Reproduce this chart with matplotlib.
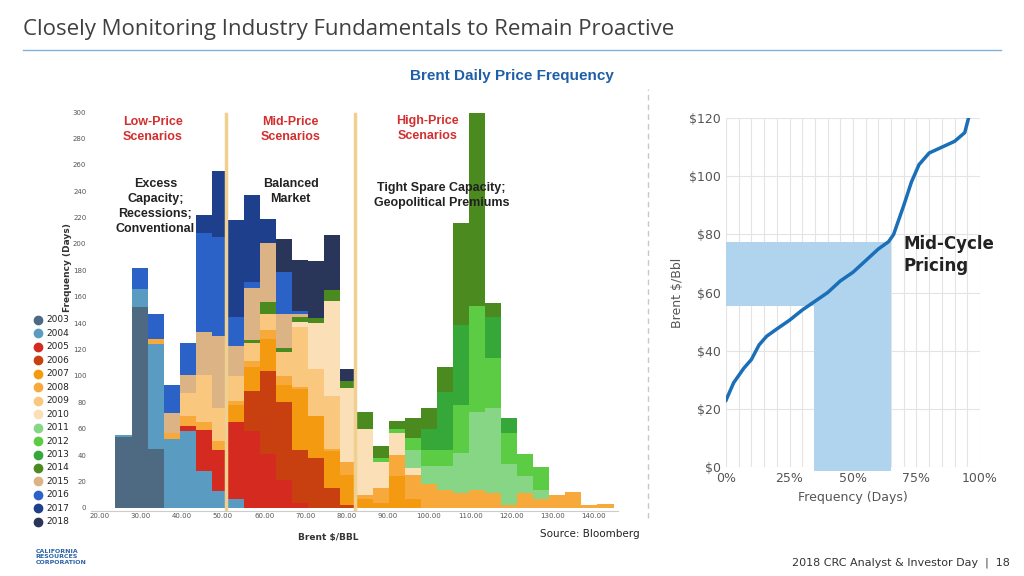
import matplotlib.pyplot as plt
import numpy as np

# --- histogram data: days per $3.9 bin, stacked by year ---
bin_start = 23.9
bin_width = 3.9
n_bins = 31
years = list(range(2003, 2019))
year_colors = ["#4d6a82", "#5a9bc2", "#d42a20", "#c94010", "#f39a10", "#f7a93c",
               "#f9c77e", "#fbdfb6", "#86d686", "#5ccc44", "#36a83a", "#4a8a1e",
               "#dbb385", "#2a62c8", "#1e3f8c", "#2a355a"]
# {bin number (1-based): days}
days = {
    2003: {1: 54, 2: 152, 3: 45},
    2004: {1: 1, 2: 14, 3: 79, 4: 52, 5: 58, 6: 28, 7: 13, 8: 7},
    2005: {5: 4, 6: 31, 7: 31, 8: 58, 9: 58, 10: 41, 11: 21, 12: 4},
    2006: {9: 31, 10: 63, 11: 59, 12: 40, 13: 38, 14: 15, 15: 2},
    2007: {8: 13, 9: 18, 10: 24, 11: 13, 12: 46, 13: 32, 14: 28, 15: 23, 16: 7,
           17: 4, 18: 24, 19: 7},
    2008: {3: 4, 4: 5, 5: 8, 6: 6, 7: 7, 8: 3, 9: 4, 10: 7, 11: 7, 12: 2, 14: 2,
           15: 10, 16: 3, 17: 11, 18: 16, 19: 18, 20: 18, 21: 14, 22: 11, 23: 14,
           24: 11, 25: 2, 26: 11, 27: 7, 28: 10, 29: 12, 30: 2, 31: 3},
    2009: {5: 17, 6: 36, 7: 25, 8: 19, 9: 14, 10: 12, 11: 18, 12: 45, 13: 35, 14: 40},
    2010: {12: 4, 13: 35, 14: 72, 15: 56, 16: 50, 17: 20, 18: 17, 19: 5},
    2011: {19: 14, 20: 14, 21: 18, 22: 31, 23: 59, 24: 65, 25: 31, 26: 13, 27: 7},
    2012: {17: 3, 18: 3, 19: 9, 20: 12, 21: 12, 22: 36, 23: 80, 24: 38, 25: 24,
           26: 17, 27: 17},
    2013: {20: 16, 21: 44, 22: 61, 24: 31, 25: 11},
    2014: {9: 2, 10: 9, 11: 3, 12: 4, 13: 4, 14: 8, 15: 5, 16: 13, 17: 9, 18: 6,
           19: 15, 20: 16, 21: 19, 22: 77, 23: 146, 24: 10},
    2015: {4: 15, 5: 14, 6: 32, 7: 54, 8: 23, 9: 40, 10: 45, 11: 26, 12: 2},
    2016: {2: 16, 3: 19, 4: 21, 5: 24, 6: 75, 7: 75, 8: 22, 9: 4, 11: 32, 12: 2},
    2017: {6: 14, 7: 50, 8: 73, 9: 66, 10: 18},
    2018: {11: 25, 12: 39, 13: 43, 14: 42, 15: 9},
}
scenario_bounds = [50.8, 82.1]

# --- cumulative price curve (right panel) ---
cdf_pct = [0, 3, 7, 10, 13, 16, 20, 25, 30, 35, 40, 45, 50, 55, 60, 64, 66, 70,
           73, 76, 80, 85, 90, 94, 95.5]
cdf_price = [23, 29, 34, 37, 42, 45, 47.5, 50.5, 54, 57, 60, 64, 67, 71, 75, 77.5,
             80, 90, 98, 104, 108, 110, 112, 115, 120]
mid_price = (55.5, 77.5)
mid_pct = (34.5, 65)

fig = plt.figure(figsize=(10.24, 5.76), dpi=100)
fig.patch.set_facecolor("white")

fig.text(0.022, 0.948, "Closely Monitoring Industry Fundamentals to Remain Proactive",
         fontsize=16, color="#404040", va="center", family="Open Sans")
fig.add_artist(plt.Line2D([0.022, 0.978], [0.913, 0.913], color="#7fb2dc", lw=1))
fig.text(0.5, 0.868, "Brent Daily Price Frequency", fontsize=11, fontweight="bold",
         color="#1f5fa8", ha="center", va="center", family="Liberation Sans")
fig.add_artist(plt.Line2D([0.633, 0.633], [0.10, 0.845], color="#c8c8c8", lw=1,
                          ls=(0, (4, 3))))

# --- left: stacked histogram ---
ax = fig.add_axes([0.089, 0.1135, 0.515, 0.7035])
lefts = bin_start + bin_width * np.arange(n_bins)
bottom = np.zeros(n_bins)
for yr, col in zip(years, year_colors):
    vals = np.zeros(n_bins)
    for b, v in days[yr].items():
        vals[b - 1] = v
    ax.bar(lefts, vals, width=bin_width, bottom=bottom, align="edge", color=col,
           linewidth=0)
    bottom += vals
for xb in scenario_bounds:
    ax.axvline(xb, color="#f0d090", lw=2.5, ymax=0.98)
ax.set_xlim(18, 146)
ax.set_ylim(-2, 305)
ax.set_xticks(range(20, 150, 10))
ax.set_xticklabels([f"{v:.2f}" for v in range(20, 150, 10)], fontsize=5, color="#555555")
ax.set_yticks(range(0, 320, 20))
ax.tick_params(axis="y", labelsize=5, colors="#555555", length=0)
ax.tick_params(axis="x", length=0, pad=2)
for s in ["top", "right", "left"]:
    ax.spines[s].set_visible(False)
ax.spines["bottom"].set_color("#cccccc")
ax.set_ylabel("Frequency (Days)", fontsize=6.5, fontweight="bold", color="#333333")
ax.yaxis.set_label_coords(-0.037, 0.6)
ax.set_xlabel("Brent $/BBL", fontsize=6.5, fontweight="bold", color="#333333",
              labelpad=10, x=0.45)

red_kw = dict(color="#d32f2f", fontsize=9, fontweight="bold", ha="center", va="top",
              family="Liberation Sans", linespacing=1.35)
blk_kw = dict(color="#222222", fontsize=9, fontweight="bold", ha="center", va="top",
              family="Liberation Sans", linespacing=1.35)
ax.text(33, 297, "Low-Price\nScenarios", **red_kw)
ax.text(66.4, 297, "Mid-Price\nScenarios", **red_kw)
ax.text(99.6, 298, "High-Price\nScenarios", **red_kw)
ax.text(33.6, 250, "Excess\nCapacity;\nRecessions;\nConventional", **blk_kw)
ax.text(66.4, 250, "Balanced\nMarket", **blk_kw)
ax.text(103, 247, "Tight Spare Capacity;\nGeopolitical Premiums", **blk_kw)

# legend
for i, (yr, col) in enumerate(zip(years, year_colors)):
    yy = 1 - (320 + 13.45 * i) / 576
    fig.add_artist(plt.Line2D([0.037], [yy], marker="o", ms=6, color=col, lw=0))
    fig.text(0.045, yy, str(yr), fontsize=6.5, va="center", color="#222222")

# --- right: cumulative curve ---
ax2 = fig.add_axes([0.709, 0.189, 0.248, 0.606])
ax2.fill_between([0, mid_pct[1]], mid_price[0], mid_price[1], color="#b0d4ee",
                 lw=0)
ax2.fill_between(mid_pct, -1.5, mid_price[0], color="#b0d4ee", lw=0, clip_on=False)
ax2.plot(cdf_pct, cdf_price, color="#1a6fb8", lw=2.5)
ax2.set_xlim(0, 100)
ax2.set_ylim(0, 120)
ax2.set_xticks([0, 25, 50, 75, 100])
ax2.set_xticklabels(["0%", "25%", "50%", "75%", "100%"])
ax2.set_xticks(np.arange(0, 101, 5), minor=True)
ax2.set_yticks(range(0, 121, 20))
ax2.set_yticklabels([f"${v}" for v in range(0, 121, 20)])
ax2.tick_params(labelsize=9, colors="#555555", length=0, which="both")
ax2.grid(True, which="both", color="#e4e4e4", lw=0.8)
ax2.set_axisbelow(True)
for s in ax2.spines.values():
    s.set_visible(False)
ax2.set_ylabel("Brent $/Bbl", fontsize=9, color="#555555")
ax2.set_xlabel("Frequency (Days)", fontsize=9, color="#555555")
ax2.text(70, 73, "Mid-Cycle\nPricing", fontsize=12, fontweight="bold", color="#222222",
         va="center", linespacing=1.3, clip_on=False)

fig.text(0.527, 0.067, "Source: Bloomberg", fontsize=7.5, color="#222222")
fig.text(0.035, 0.033, "CALIFORNIA\nRESOURCES\nCORPORATION", fontsize=4.5,
         color="#2a62a8", fontweight="bold", va="center", linespacing=1.1)
fig.text(0.986, 0.019, "2018 CRC Analyst & Investor Day  |  18", fontsize=8,
         color="#333333", ha="right")

fig.savefig("out.png", dpi=100)
